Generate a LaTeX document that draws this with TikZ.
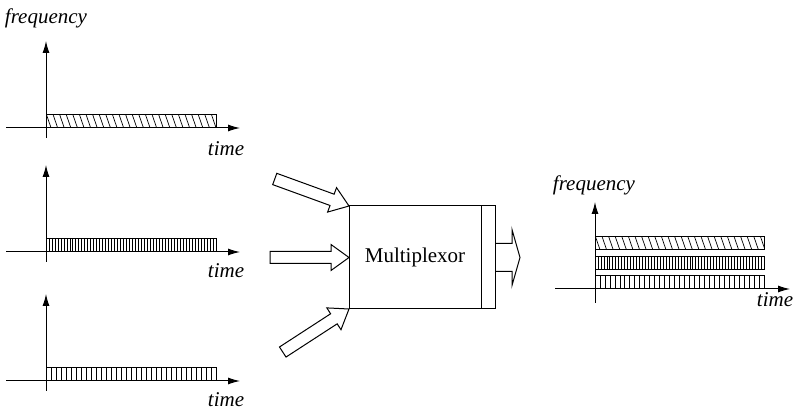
\documentclass[tikz,border=0pt]{standalone}
\usepackage{fontspec}
\setmainfont{Liberation Serif}
\usetikzlibrary{arrows.meta}

% x, y of bottom left corner, length
\newcommand{\diagbar}[3]{%
	\begin{scope}
		\clip (#1,#2) rectangle (#1+#3,#2-13);
		\foreach \i in {-6,0.6,...,#3} \draw[HatchStyle] (#1+\i,#2-13) -- (#1+\i+4.5,#2);
	\end{scope}
	\draw (#1,#2) rectangle (#1+#3,#2-13);}
% x, y of bottom left corner, length, number of strokes
\newcommand{\vertbar}[4]{%
	\foreach \i in {1,...,#4} \draw[HatchStyle] (#1+\i*#3/#4,#2) -- (#1+\i*#3/#4,#2-13);
	\draw (#1,#2) rectangle (#1+#3,#2-13);}

\begin{document}
\begin{tikzpicture}[x=0.5pt,y=-0.5pt,line width=0.5pt]
			\tikzset{
			  AxisStyle/.style = { -{Latex[length=6pt,width=3.5pt]} },
			  HatchStyle/.style = { line width=0.35pt },
			  LabelStyle/.style = { font = \itshape\fontsize{10.5}{12}\selectfont },
			  BoxStyle/.style = { draw, minimum height=51.5pt, inner sep=0pt, outer sep=0pt,
			                      font = \fontsize{10.5}{12}\selectfont },
			  InArrow/.pic = { \draw (0,0) -- (-18,-13) -- (-18,-6) -- (-79,-6)
			                   -- (-79,6) -- (-18,6) -- (-18,13) -- cycle; },
			  OutArrow/.pic = { \draw (0,-14) -- (17,-14) -- (17,-28) -- (25,0)
			                    -- (17,28) -- (17,14) -- (0,14); } }
			\useasboundingbox (0,0) rectangle (794,411);
			% input signals
			\foreach \y in {128,252,381}{
			  \draw[AxisStyle] (6,\y) -- (240,\y);
			  \draw[AxisStyle] (46,\y+10) -- (46,\y-87);
			}
			\diagbar{46}{128}{170}
			\vertbar{46}{252}{170}{57}
			\vertbar{46}{381}{170}{34}
			\node[LabelStyle] (freq1) at (46,18) {frequency};
			\node[LabelStyle] (time1) at (226,149) {time};
			\node[LabelStyle] (time2) at (226,271) {time};
			\node[LabelStyle] (time3) at (226,400) {time};
			% multiplexor
			\node[BoxStyle, minimum width=66pt] (mux) at (415,257.5) {Multiplexor};
			\node[BoxStyle, minimum width=7pt, anchor=west] (strip) at (mux.east) {};
			\pic[rotate=-20] at (mux.north west) {InArrow};
			\pic at (mux.west) {InArrow};
			\pic[rotate=33] at (mux.south west) {InArrow};
			\pic at (strip.east) {OutArrow};
			% output signal
			\draw[AxisStyle] (555,289) -- (790,289);
			\draw[AxisStyle] (595,303) -- (595,202);
			\vertbar{595}{289}{169}{34}
			\vertbar{595}{270}{169}{57}
			\diagbar{595}{250}{169}
			\node[LabelStyle] (freq2) at (594,185) {frequency};
			\node[LabelStyle] (time4) at (775,300) {time};
		\end{tikzpicture}
\end{document}
